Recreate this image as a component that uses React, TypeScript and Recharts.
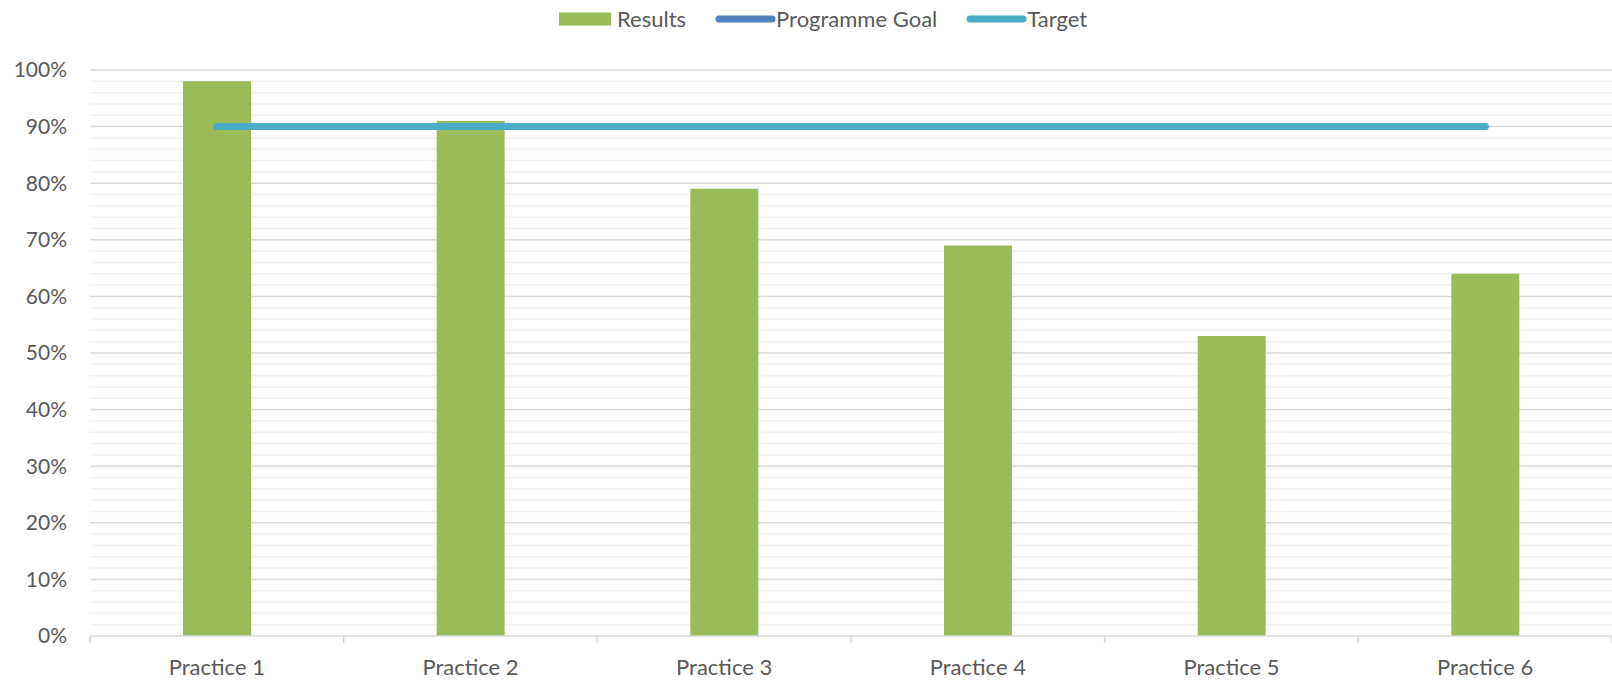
import React from "react";
import {
  ComposedChart,
  Bar,
  Line,
  XAxis,
  YAxis,
  CartesianGrid,
  Legend,
} from "recharts";

const categories = ["Practice 1", "Practice 2", "Practice 3", "Practice 4", "Practice 5", "Practice 6"];
const results = [98, 91, 79, 69, 53, 64];
const programmeGoal = [90, 90, 90, 90, 90, 90];
const target = [90, 90, 90, 90, 90, 90];
const yTicks = [0, 10, 20, 30, 40, 50, 60, 70, 80, 90, 100];
const yMinorTicks = [2, 4, 6, 8, 12, 14, 16, 18, 22, 24, 26, 28, 32, 34, 36, 38, 42, 44, 46, 48, 52, 54, 56, 58, 62, 64, 66, 68, 72, 74, 76, 78, 82, 84, 86, 88, 92, 94, 96, 98];

const data = categories.map((c, i) => ({
  name: c,
  Results: results[i],
  "Programme Goal": programmeGoal[i],
  Target: target[i],
}));

const FONT = "Lato, 'Open Sans', sans-serif";
const TEXT = "#595959";
const GREEN = "#9BBB59";
const BLUE = "#4F81BD";
const TEAL = "#4BACC6";

const CategoryTick = (props: any) => {
  const { x, y, payload, index } = props;
  const half = payload?.offset ?? 0;
  return (
    <g>
      <line x1={x - half} x2={x - half} y1={y} y2={y + 7} stroke="#D9D9D9" strokeWidth={1.5} />
      {index === categories.length - 1 && (
        <line x1={x + half} x2={x + half} y1={y} y2={y + 7} stroke="#D9D9D9" strokeWidth={1.5} />
      )}
      <text x={x} y={y + 39} textAnchor="middle" fill={TEXT} fontSize={22} fontFamily={FONT}>
        {payload.value}
      </text>
    </g>
  );
};

const legendItems = [
  { name: "Results", type: "rect", color: GREEN },
  { name: "Programme Goal", type: "line", color: BLUE },
  { name: "Target", type: "line", color: TEAL },
];

const LegendContent = () => (
  <div
    style={{
      display: "flex",
      justifyContent: "flex-start",
      alignItems: "center",
      height: 38,
      fontFamily: FONT,
      fontSize: 22,
      color: TEXT,
    }}
  >
    {legendItems.map((it, i) => (
      <div key={it.name} style={{ display: "flex", alignItems: "center", marginLeft: i === 0 ? 0 : 29 }}>
        {it.type === "rect" ? (
          <svg width={58} height={14} style={{ display: "block" }}>
            <rect x={0} y={0.5} width={52} height={13} fill={it.color} />
          </svg>
        ) : (
          <svg width={61} height={14} style={{ display: "block" }}>
            <line x1={4} x2={57} y1={7} y2={7} stroke={it.color} strokeWidth={7} strokeLinecap="round" />
          </svg>
        )}
        <span style={{ lineHeight: "38px" }}>{it.name}</span>
      </div>
    ))}
  </div>
);

export default function App() {
  return (
    <div style={{ position: "absolute", left: 0, top: 0, width: 1612, height: 694, background: "#fff" }}>
      <ComposedChart
        width={1612}
        height={694}
        data={data}
        margin={{ top: 70, right: 0, bottom: 0, left: 0 }}
        barSize={68}
      >
        <CartesianGrid horizontal vertical={false} stroke="#F2F2F2" strokeWidth={1.5} horizontalValues={yMinorTicks} />
        <CartesianGrid horizontal vertical={false} stroke="#D9D9D9" strokeWidth={1.5} horizontalValues={yTicks.slice(1)} />
        <XAxis
          dataKey="name"
          height={58}
          tickLine={false}
          tickSize={0}
          tickMargin={0}
          axisLine={{ stroke: "#D9D9D9", strokeWidth: 1.5 }}
          tick={<CategoryTick />}
          interval={0}
        />
        <YAxis
          width={90}
          domain={[0, 100]}
          ticks={yTicks}
          tickFormatter={(v: number) => `${v}%`}
          axisLine={false}
          tickLine={false}
          tickMargin={0}
          tickSize={23}
          tick={{ fill: TEXT, fontSize: 21, fontFamily: FONT }}
          interval={0}
        />
        <Legend verticalAlign="middle" align="center" layout="horizontal" content={<LegendContent />} wrapperStyle={{ top: 0, left: 559, width: 600, height: 38 }} />
        <Bar dataKey="Results" fill={GREEN} isAnimationActive={false} />
        <Line dataKey="Programme Goal" stroke={BLUE} strokeWidth={7} strokeLinecap="round" dot={false} activeDot={false} isAnimationActive={false} />
        <Line dataKey="Target" stroke={TEAL} strokeWidth={7} strokeLinecap="round" dot={false} activeDot={false} isAnimationActive={false} />
      </ComposedChart>
    </div>
  );
}
